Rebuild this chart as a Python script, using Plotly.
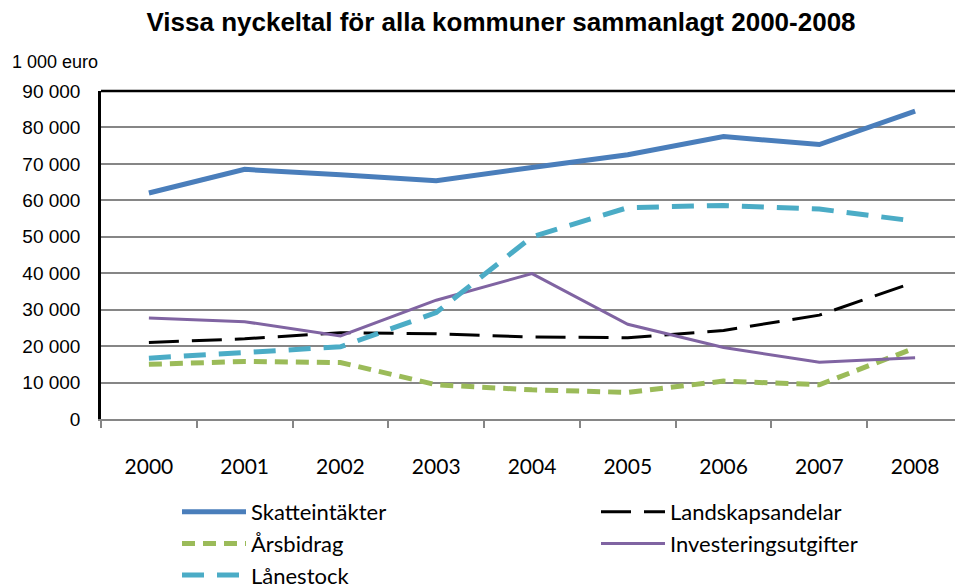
import plotly.graph_objects as go

years = ["2000", "2001", "2002", "2003", "2004", "2005", "2006", "2007", "2008"]
skatteintakter = [62000, 68500, 67000, 65400, 69000, 72500, 77500, 75300, 84500]
landskapsandelar = [21000, 22000, 23700, 23400, 22500, 22300, 24300, 28500, 37600]
arsbidrag = [15000, 15800, 15500, 9400, 8000, 7300, 10400, 9400, 19500]
investeringsutgifter = [27700, 26700, 22800, 32600, 39900, 26000, 19600, 15600, 16800]
lanestock = [16700, 18100, 19800, 29200, 50000, 58000, 58600, 57600, 54300]

NARROW = "Lato, sans-serif"
ARIAL = "Liberation Sans, Arial, sans-serif"

# page body has an 8px default margin; figure sized/positioned to compensate
W, H = 955, 580
L, T, B = 93, 83, 169
PW, PH = W - L, H - T - B

fig = go.Figure()
fig.add_trace(go.Scatter(x=years, y=skatteintakter, name="Skatteintäkter", mode="lines",
                         line=dict(color="#4a7ebb", width=5)))
fig.add_trace(go.Scatter(x=years, y=landskapsandelar, name="Landskapsandelar", mode="lines",
                         line=dict(color="#000000", width=3, dash="30px,13px")))
fig.add_trace(go.Scatter(x=years, y=arsbidrag, name="Årsbidrag", mode="lines",
                         line=dict(color="#9bbb59", width=5, dash="13px,8px")))
fig.add_trace(go.Scatter(x=years, y=investeringsutgifter, name="Investeringsutgifter", mode="lines",
                         line=dict(color="#8064a2", width=3)))
fig.add_trace(go.Scatter(x=years, y=lanestock, name="Lånestock", mode="lines",
                         line=dict(color="#4bacc6", width=5, dash="22px,13px")))

fig.update_layout(
    width=W, height=H,
    margin=dict(l=L, r=0, t=T, b=B, autoexpand=False),
    paper_bgcolor="white", plot_bgcolor="white",
    separators=", ",
    font=dict(family=ARIAL, size=18, color="#000000"),
    title=dict(text="<b>Vissa nyckeltal för alla kommuner sammanlagt 2000-2008</b>",
               x=493/W, xanchor="center", xref="container",
               y=1 - 14/H, yanchor="middle", yref="container",
               font=dict(family=ARIAL, size=26, color="#000000")),
    showlegend=True,
    legend=dict(orientation="h", xref="container", yref="container",
                x=169/W, xanchor="left", y=1 - 483/H, yanchor="top",
                entrywidth=340, entrywidthmode="pixels", itemwidth=64,
                font=dict(family=NARROW, size=22, color="#000000"),
                bgcolor="rgba(0,0,0,0)", traceorder="normal"),
    xaxis=dict(type="category", range=[-0.5, 8.5], showgrid=False,
               showline=True, linecolor="#868686", linewidth=2,
               ticks="outside", tickson="boundaries", ticklen=7, tickcolor="#868686", tickwidth=2,
               tickfont=dict(family=NARROW, size=21), ticklabelstandoff=28, zeroline=False),
    yaxis=dict(range=[0, 90000], dtick=10000, tickformat=",d",
               showgrid=True, gridcolor="#868686", gridwidth=2,
               showline=True, linecolor="#000000", linewidth=2.5,
               ticks="", tickfont=dict(family=ARIAL, size=19), ticklabelstandoff=14,
               zeroline=False),
    annotations=[dict(text="1 000 euro", xref="paper", yref="paper",
                      x=(2 - L)/PW, xanchor="left", y=1 + (T - 54)/PH, yanchor="middle",
                      showarrow=False, font=dict(family=ARIAL, size=18, color="#000000"))],
    shapes=[dict(type="line", xref="paper", yref="paper", x0=0, x1=1, y0=1, y1=1,
                 line=dict(color="#000000", width=2.5))],
)

fig.write_html("out.html")
